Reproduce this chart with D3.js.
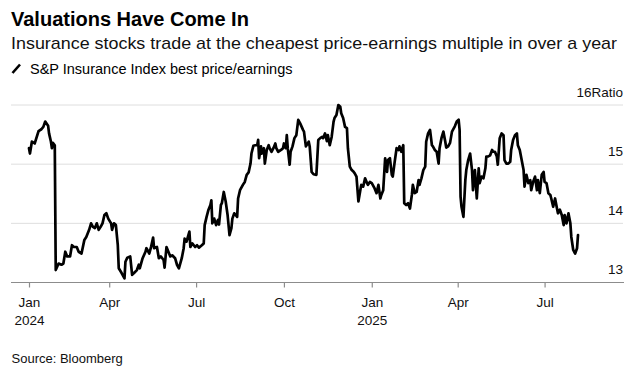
<!DOCTYPE html>
<html>
<head>
<meta charset="utf-8">
<script src="https://cdn.jsdelivr.net/npm/d3@7"></script>
<style>
  body { margin: 0; background: #fff; }
  svg { display: block; font-family: "Liberation Sans", Arial, sans-serif; }
</style>
</head>
<body>
<svg id="chart" width="638" height="372"></svg>
<script>
// S&P Insurance Index best price/earnings
var dates = [
  "2024-01-08","2024-01-09","2024-01-11","2024-01-14","2024-01-18","2024-01-21","2024-01-23","2024-01-25","2024-01-28","2024-01-29",
  "2024-01-31","2024-02-01","2024-02-02","2024-02-04","2024-02-05","2024-02-08","2024-02-11","2024-02-13","2024-02-15","2024-02-17",
  "2024-02-20","2024-02-22","2024-02-24","2024-02-27","2024-02-29","2024-03-03","2024-03-06","2024-03-08","2024-03-11","2024-03-13",
  "2024-03-15","2024-03-17","2024-03-19","2024-03-21","2024-03-23","2024-03-25","2024-03-27","2024-03-29","2024-03-31","2024-04-03",
  "2024-04-04","2024-04-06","2024-04-08","2024-04-10","2024-04-11","2024-04-14","2024-04-17","2024-04-18","2024-04-20","2024-04-23",
  "2024-04-25","2024-04-27","2024-04-30","2024-05-02","2024-05-03","2024-05-06","2024-05-09","2024-05-10","2024-05-13","2024-05-15",
  "2024-05-17","2024-05-18","2024-05-21","2024-05-23","2024-05-25","2024-05-28","2024-05-29","2024-05-31","2024-06-02","2024-06-04",
  "2024-06-06","2024-06-09","2024-06-11","2024-06-13","2024-06-16","2024-06-18","2024-06-19","2024-06-21","2024-06-24","2024-06-25",
  "2024-06-27","2024-06-30","2024-07-02","2024-07-04","2024-07-07","2024-07-09","2024-07-10","2024-07-12","2024-07-14","2024-07-16",
  "2024-07-17","2024-07-18","2024-07-20","2024-07-22","2024-07-24","2024-07-25","2024-07-27","2024-07-28","2024-07-30","2024-08-01",
  "2024-08-03","2024-08-05","2024-08-07","2024-08-08","2024-08-10","2024-08-13","2024-08-14","2024-08-16","2024-08-18","2024-08-19",
  "2024-08-21","2024-08-23","2024-08-25","2024-08-27","2024-08-28","2024-08-30","2024-09-01","2024-09-03","2024-09-04","2024-09-05",
  "2024-09-07","2024-09-08","2024-09-10","2024-09-11","2024-09-13","2024-09-15","2024-09-16","2024-09-18","2024-09-20","2024-09-22",
  "2024-09-23","2024-09-25","2024-09-28","2024-09-30","2024-10-01","2024-10-03","2024-10-04","2024-10-05","2024-10-07","2024-10-08",
  "2024-10-10","2024-10-12","2024-10-14","2024-10-16","2024-10-18","2024-10-21","2024-10-22","2024-10-24","2024-10-27","2024-10-28",
  "2024-10-30","2024-11-01","2024-11-04","2024-11-06","2024-11-08","2024-11-10","2024-11-11","2024-11-13","2024-11-15","2024-11-16",
  "2024-11-18","2024-11-20","2024-11-22","2024-11-23","2024-11-25","2024-11-27","2024-11-29","2024-11-30","2024-12-02","2024-12-04",
  "2024-12-06","2024-12-07","2024-12-09","2024-12-11","2024-12-13","2024-12-14","2024-12-16","2024-12-18","2024-12-20","2024-12-21",
  "2024-12-23","2024-12-25","2024-12-27","2024-12-28","2024-12-30","2025-01-01","2025-01-03","2025-01-04","2025-01-06","2025-01-08",
  "2025-01-10","2025-01-11","2025-01-13","2025-01-15","2025-01-17","2025-01-18","2025-01-20","2025-01-22","2025-01-23","2025-01-25",
  "2025-01-27","2025-01-29","2025-01-30","2025-02-01","2025-02-03","2025-02-04","2025-02-06","2025-02-08","2025-02-10","2025-02-12",
  "2025-02-13","2025-02-15","2025-02-17","2025-02-19","2025-02-20","2025-02-22","2025-02-24","2025-02-26","2025-02-27","2025-03-01",
  "2025-03-03","2025-03-05","2025-03-06","2025-03-08","2025-03-10","2025-03-12","2025-03-13","2025-03-15","2025-03-17","2025-03-19",
  "2025-03-20","2025-03-22","2025-03-24","2025-03-26","2025-03-27","2025-03-29","2025-03-31","2025-04-02","2025-04-03","2025-04-04",
  "2025-04-05","2025-04-07","2025-04-09","2025-04-10","2025-04-12","2025-04-14","2025-04-16","2025-04-17","2025-04-19","2025-04-21",
  "2025-04-23","2025-04-24","2025-04-26","2025-04-28","2025-04-30","2025-05-01","2025-05-03","2025-05-05","2025-05-07","2025-05-08",
  "2025-05-10","2025-05-12","2025-05-13","2025-05-15","2025-05-17","2025-05-19","2025-05-20","2025-05-22","2025-05-24","2025-05-26",
  "2025-05-27","2025-05-29","2025-05-31","2025-06-02","2025-06-03","2025-06-05","2025-06-07","2025-06-09","2025-06-10","2025-06-12",
  "2025-06-14","2025-06-16","2025-06-17","2025-06-19","2025-06-21","2025-06-23","2025-06-24","2025-06-26","2025-06-28","2025-06-30",
  "2025-07-01","2025-07-03","2025-07-05","2025-07-07","2025-07-08","2025-07-10","2025-07-12","2025-07-14","2025-07-15","2025-07-17",
  "2025-07-19","2025-07-21","2025-07-22","2025-07-24","2025-07-26","2025-07-28","2025-07-29","2025-07-31","2025-08-02","2025-08-04",
  "2025-08-05"
]
var peRatio = [
  15.27,15.18,15.38,15.35,15.56,15.59,15.63,15.72,15.65,15.52,
  15.38,15.27,15.36,15.32,13.21,13.32,13.30,13.32,13.52,13.44,
  13.44,13.63,13.60,13.60,13.52,13.49,13.72,13.77,13.89,14.00,
  13.94,13.92,14.00,13.89,13.94,14.00,14.14,14.17,14.08,14.00,
  13.89,14.00,13.97,13.63,13.24,13.16,13.07,13.35,13.42,13.44,
  13.13,13.16,13.21,13.30,13.24,13.41,13.52,13.58,13.49,13.61,
  13.76,13.58,13.60,13.41,13.44,13.38,13.25,13.60,13.52,13.44,
  13.46,13.41,13.30,13.24,13.41,13.58,13.74,13.69,13.86,13.60,
  13.66,13.60,13.63,13.59,13.63,13.66,13.97,14.11,14.23,14.31,
  14.39,14.00,14.08,13.97,14.06,13.98,14.31,14.34,14.53,14.37,
  14.14,13.80,13.92,14.08,14.17,14.11,14.42,14.56,14.62,14.65,
  14.70,14.82,14.86,15.01,15.18,15.31,15.32,15.32,15.41,15.10,
  15.30,15.18,15.27,15.01,15.24,15.32,15.27,15.21,15.27,15.35,
  15.27,15.21,15.24,15.27,15.35,15.27,15.49,15.27,14.99,15.21,
  15.30,15.44,15.49,15.75,15.69,15.58,15.55,15.30,15.38,15.30,
  14.87,14.83,14.82,15.41,15.44,15.46,15.44,15.52,15.39,15.49,
  15.32,15.46,15.72,15.78,15.83,16.00,15.97,15.86,15.78,15.63,
  15.61,15.27,14.96,14.90,14.87,14.85,14.79,14.37,14.56,14.65,
  14.62,14.76,14.68,14.65,14.70,14.68,14.62,14.59,14.51,14.65,
  14.42,14.48,14.56,15.10,14.87,15.07,15.10,14.82,14.79,15.04,
  15.27,15.24,15.30,15.21,15.32,14.34,14.31,14.34,14.25,14.48,
  14.65,14.51,14.53,14.73,14.65,14.76,14.90,14.96,15.38,15.52,
  15.58,15.32,15.30,15.24,15.21,15.01,15.27,15.44,15.55,15.38,
  15.28,15.30,15.36,15.55,15.58,15.64,15.72,15.75,15.58,14.45,
  14.28,14.11,14.73,14.90,15.07,15.18,14.90,14.56,14.90,14.42,
  14.93,14.68,14.79,14.76,14.93,15.13,15.13,15.15,15.24,15.21,
  15.21,15.13,14.99,15.44,15.52,15.49,15.07,15.01,15.01,15.04,
  15.24,15.41,15.49,15.52,15.32,15.24,15.07,14.90,14.62,14.82,
  14.68,14.73,14.56,14.70,14.79,14.56,14.73,14.51,14.82,14.87,
  14.70,14.68,14.51,14.48,14.42,14.28,14.42,14.25,14.17,14.23,
  14.14,13.97,14.14,14.00,14.17,14.00,13.77,13.55,13.49,13.58,
  13.80
]
var monthTicks = ["2024-01-08","2024-04-01","2024-07-01","2024-10-01","2025-01-01","2025-04-01","2025-07-01"]
var monthLabels = ["Jan","Apr","Jul","Oct","Jan","Apr","Jul"]
var yearLabels = ["2024","","","","2025","",""]
var yTicks = [13, 14, 15, 16]

var parse = d3.timeParse("%Y-%m-%d")
var data = dates.map(function(d, i) { return { date: parse(d), value: peRatio[i] } })

var svg = d3.select("#chart")
var left = 11, right = 623, baseY = 282.5, topY = 105

var x = d3.scaleTime().domain(d3.extent(data, function(d) { return d.date })).range([29, 578])
var y = d3.scaleLinear().domain([13, 16]).range([baseY, topY])

// titles
svg.append("text").text("Valuations Have Come In").attr("x", 11).attr("y", 26)
  .attr("font-size", 20).attr("font-weight", "bold").attr("fill", "#000")
var sub = svg.append("text").text("Insurance stocks trade at the cheapest price-earnings multiple in over a year")
  .attr("x", 11).attr("y", 49).attr("font-size", 17).attr("fill", "#111")
sub.attr("textLength", 606).attr("lengthAdjust", "spacingAndGlyphs")

// legend
svg.append("line").attr("x1", 12.5).attr("y1", 73).attr("x2", 20).attr("y2", 64.5)
  .attr("stroke", "#000").attr("stroke-width", 2.6)
svg.append("text").text("S&P Insurance Index best price/earnings").attr("x", 30).attr("y", 74)
  .attr("font-size", 14.5).attr("fill", "#000")

// gridlines
svg.append("g").selectAll("line").data(yTicks.filter(function(t) { return t > 13 })).enter().append("line")
  .attr("x1", left).attr("x2", right)
  .attr("y1", function(d) { return y(d) }).attr("y2", function(d) { return y(d) })
  .attr("stroke", "#dedede").attr("stroke-width", 1)

// y labels
var yl = svg.append("g").selectAll("text").data(yTicks).enter().append("text")
  .attr("x", right).attr("y", function(d) { return y(d) - 8.3 })
  .attr("text-anchor", "end").attr("font-size", 13.5).attr("fill", "#111")
yl.text(function(d) { return d })
yl.filter(function(d) { return d === 16 }).append("tspan").text("Ratio")

// baseline
svg.append("line").attr("x1", left).attr("x2", right + 1).attr("y1", baseY).attr("y2", baseY)
  .attr("stroke", "#8c8c8c").attr("stroke-width", 1.2)

// x axis
var xAxis = d3.axisBottom(x)
  .tickValues(monthTicks.map(parse))
  .tickSize(5)
  .tickFormat(function(d, i) { return monthLabels[i] })
var gx = svg.append("g").attr("transform", "translate(0," + baseY + ")").call(xAxis)
gx.select(".domain").remove()
gx.selectAll(".tick line").attr("stroke", "#8c8c8c").attr("stroke-width", 1.2)
gx.selectAll(".tick text").attr("font-family", "Liberation Sans, Arial, sans-serif")
  .attr("font-size", 13.5).attr("fill", "#111").attr("y", 24).attr("dy", null)
gx.selectAll(".tick").each(function(d, i) {
  if (yearLabels[i]) {
    d3.select(this).append("text").text(yearLabels[i]).attr("y", 42)
      .attr("text-anchor", "middle").attr("font-family", "Liberation Sans, Arial, sans-serif")
      .attr("font-size", 13.5).attr("fill", "#111")
  }
})

// line
svg.append("path").datum(data)
  .attr("fill", "none").attr("stroke", "#000").attr("stroke-width", 2.7)
  .attr("stroke-linejoin", "round").attr("stroke-linecap", "round")
  .attr("d", d3.line().x(function(d) { return x(d.date) }).y(function(d) { return y(d.value) }))

// source
svg.append("text").text("Source: Bloomberg").attr("x", 11.5).attr("y", 363)
  .attr("font-size", 13).attr("fill", "#111")
</script>
</body>
</html>
